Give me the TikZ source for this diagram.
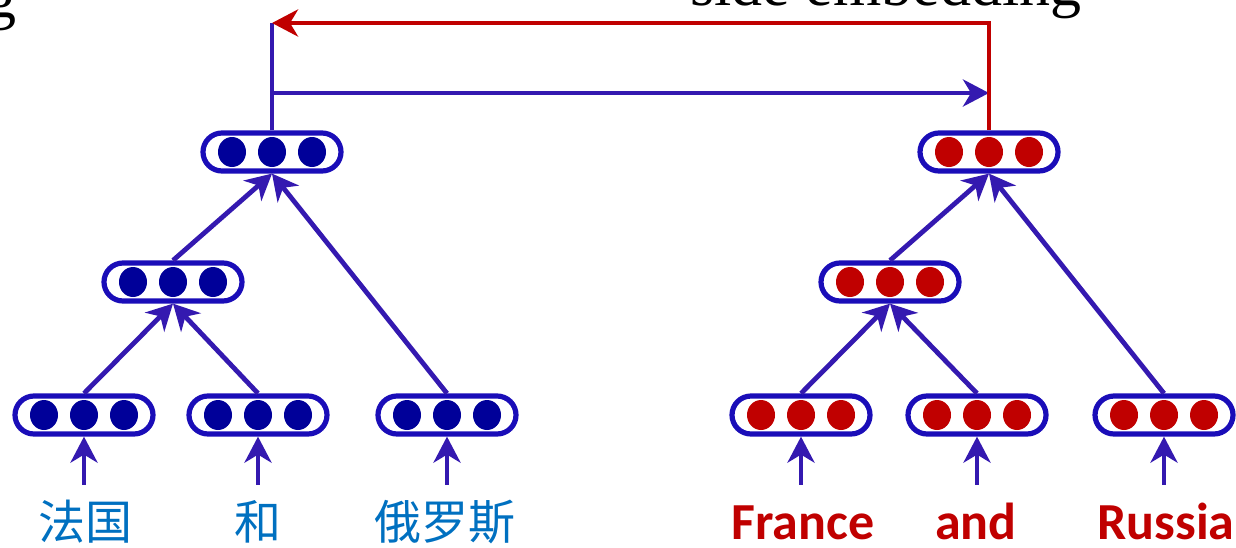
\documentclass[tikz,border=0pt]{standalone}
\usepackage{fontspec}
\setmainfont{Liberation Serif}
\newfontfamily\zhfont{Noto Sans CJK SC}
\newfontfamily\enfont{Carlito}
\usetikzlibrary{arrows.meta,shapes.misc,shapes.geometric}

\definecolor{boxblue}{HTML}{1A0DB8}
\definecolor{linkblue}{HTML}{3419B0}
\definecolor{dotblue}{HTML}{000099}
\definecolor{dotred}{HTML}{C00000}
\definecolor{zhblue}{HTML}{0070C0}

\tikzset{
  vec/.style={rounded rectangle, draw=boxblue, line width=2.6pt,
    minimum width=69pt, minimum height=19pt, inner sep=0pt},
  unit/.style={ellipse, fill=#1, minimum width=14pt, minimum height=15pt, inner sep=0pt},
  link/.style={draw=linkblue, line width=2.4pt,
    -{Stealth[length=13pt,width=13.5pt,inset=4pt]}},
  word/.style={anchor=base, inner sep=0pt, text height=27pt},
}

% one vector: the box and its three units
\newcommand{\vecbox}[4]{%
  \node[vec] (#1) at (#2,#3) {};
  \foreach \d/\i in {-40/a,0/b,40/c}
    \node[unit=#4] (#1-\i) at (#2+\d,#3) {};
}

\begin{document}
\begin{tikzpicture}[x=0.5pt,y=-0.5pt]
\useasboundingbox (0,0) rectangle (1236,547);

% titles, cut at the top
\node[anchor=base east, inner sep=0pt, font=\fontsize{31}{31}\selectfont] (ltitle) at (17,17) {g};
\node[anchor=base west, inner sep=0pt, font=\fontsize{31}{31}\selectfont] (rtitle) at (690,5) {side embedding};

% source tree
\vecbox{zt}{272}{152}{dotblue}
\vecbox{zm}{173}{282}{dotblue}
\vecbox{z1}{84}{415}{dotblue}
\vecbox{z2}{258}{415}{dotblue}
\vecbox{z3}{447}{415}{dotblue}

% target tree
\vecbox{et}{989}{152}{dotred}
\vecbox{em}{890}{282}{dotred}
\vecbox{e1}{801}{415}{dotred}
\vecbox{e2}{977}{415}{dotred}
\vecbox{e3}{1164}{415}{dotred}

% words
\node[word, font=\zhfont\fontsize{23.5}{23.5}\selectfont, text=zhblue] (zw1) at (86,539) {法国};
\node[word, font=\zhfont\fontsize{23.5}{23.5}\selectfont, text=zhblue] (zw2) at (258,539) {和};
\node[word, font=\zhfont\fontsize{23.5}{23.5}\selectfont, text=zhblue] (zw3) at (445,539) {俄罗斯};
\node[word, font=\enfont\bfseries\fontsize{26}{26}\selectfont, text=dotred] (ew1) at (803,539) {France};
\node[word, font=\enfont\bfseries\fontsize{26}{26}\selectfont, text=dotred] (ew2) at (976,539) {and};
\node[word, font=\enfont\bfseries\fontsize{26}{26}\selectfont, text=dotred] (ew3) at (1166,539) {Russia};

\draw[link] (z1.south |- zw1.north) -- (z1.south);
\draw[link] (z2.south |- zw2.north) -- (z2.south);
\draw[link] (z3.south |- zw3.north) -- (z3.south);
\draw[link] (e1.south |- ew1.north) -- (e1.south);
\draw[link] (e2.south |- ew2.north) -- (e2.south);
\draw[link] (e3.south |- ew3.north) -- (e3.south);

\draw[link] (z1.north) -- (zm.south);
\draw[link] (z2.north) -- (zm.south);
\draw[link] (zm.north) -- (zt.south);
\draw[link] (z3.north) -- (zt.south);
\draw[link] (e1.north) -- (em.south);
\draw[link] (e2.north) -- (em.south);
\draw[link] (em.north) -- (et.south);
\draw[link] (e3.north) -- (et.south);

% embeddings passed across
\coordinate (ztop) at (272,23);
\coordinate (etop) at (989,23);
\coordinate (zmid) at (272,93);
\coordinate (emid) at (989,93);
\draw[linkblue, line width=2.4pt] (zt.north) -- (ztop);
\draw[link] (zmid) -- (emid);
\draw[dotred, line width=2.4pt, -{Stealth[length=13pt,width=13.5pt,inset=4pt]}] (et.north) -- (etop) -- (ztop);
\end{tikzpicture}
\end{document}
